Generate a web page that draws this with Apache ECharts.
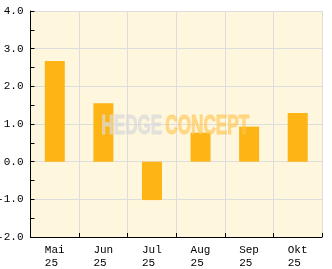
<!DOCTYPE html>
<html><head><meta charset="utf-8">
<script src="https://cdn.jsdelivr.net/npm/echarts@6/dist/echarts.min.js"></script>
<style>html,body{margin:0;padding:0;background:#fff}#c{width:332px;height:269px}</style>
</head><body><div id="c"></div>
<script>
var months = ["Mai","Jun","Jul","Aug","Sep","Okt"];
var years = ["25","25","25","25","25","25"];
var values = [2.67, 1.55, -1.02, 0.77, 0.93, 1.29];
var yTicks = [-2, -1, 0, 1, 2, 3, 4];

var categories = months.map(function(m,i){return m + "\n" + years[i];});
var chart = echarts.init(document.getElementById('c'), null, {renderer:'canvas'});
var font = "'Liberation Mono', monospace";
chart.setOption({
  animation:false,
  backgroundColor:'#ffffff',
  grid:{left:30.5,right:10,top:11,bottom:32,show:true,backgroundColor:'#FFF6DE',borderWidth:0,
        containLabel:false,outerBoundsMode:'none'},
  xAxis:{
    type:'category', data:categories, boundaryGap:true,
    axisLine:{show:true,onZero:false,lineStyle:{color:'#000',width:1}},
    axisTick:{show:true,inside:true,length:4,interval:0,lineStyle:{color:'#000'}},
    splitLine:{show:true,interval:0,lineStyle:{color:'#DDDDDD',width:1}},
    axisLabel:{interval:0,hideOverlap:false,margin:7,color:'#000',fontFamily:font,fontSize:11,lineHeight:12.5,
      formatter:function(v){var p=v.split("\n");return '{a|'+p[0]+'}\n{a|'+p[1]+'}';},
      rich:{a:{width:20,align:'left',fontFamily:font,fontSize:11,lineHeight:12.5,color:'#000'}}}
  },
  yAxis:{
    type:'value', min:yTicks[0], max:yTicks[yTicks.length-1], interval:1,
    axisLine:{show:true,lineStyle:{color:'#000',width:1}},
    axisTick:{show:true,inside:true,length:4,lineStyle:{color:'#000'}},
    minorTick:{show:true,splitNumber:2,length:4,lineStyle:{color:'#000'}},
    splitLine:{show:true,lineStyle:{color:'#DDDDDD',width:1}},
    axisLabel:{margin:7,color:'#000',fontFamily:font,fontSize:11,formatter:function(v){return v.toFixed(1);}}
  },
  series:[{type:'bar',data:values,barWidth:20,itemStyle:{color:'#FDB515'}}],
  graphic:[
    {type:'text',left:101,top:113,z:100,scaleX:0.635,style:{text:'HEDGE',font:"bold 27px 'Liberation Sans'",fill:'rgba(218,218,218,0.7)',stroke:'rgba(218,218,218,0.7)',lineWidth:1}},
    {type:'text',left:165,top:113,z:100,scaleX:0.635,style:{text:'CONCEPT',font:"bold 27px 'Liberation Sans'",fill:'rgba(255,198,80,0.6)',stroke:'rgba(255,198,80,0.6)',lineWidth:1}}
  ]
});
</script></body></html>
